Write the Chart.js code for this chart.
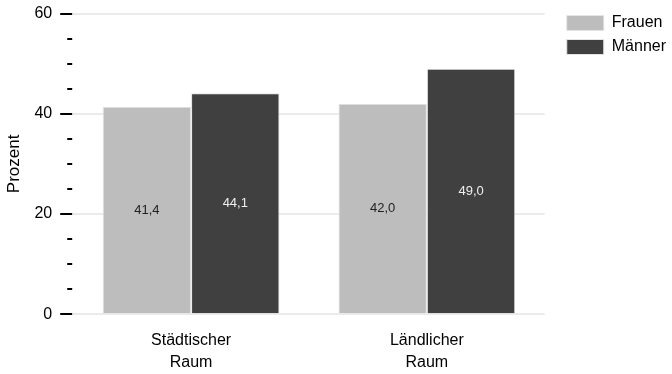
<!DOCTYPE html>
<html>
<head>
<meta charset="utf-8">
<script src="https://cdn.jsdelivr.net/npm/chart.js@4/dist/chart.umd.min.js"></script>
<style>
  html, body { margin: 0; padding: 0; background: #fff; }
  #wrap { width: 672px; height: 374px; }
</style>
</head>
<body>
<div id="wrap"><canvas id="chart"></canvas></div>
<script>
// Daten
const kategorien = [['Städtischer', 'Raum'], ['Ländlicher', 'Raum']];
const frauen = [41.4, 42.0];
const maenner = [44.1, 49.0];
const serienNamen = ['Frauen', 'Männer'];
const farben = ['#bdbdbd', '#404040'];
const labelFarben = ['#222222', '#eeeeee'];

const schrift = "'Liberation Sans', Arial, sans-serif";

// Striche an der y-Achse (lang bei 20er Schritten, kurz dazwischen)
const tickStriche = {
  id: 'tickStriche',
  afterDraw(chart) {
    const y = chart.scales.y;
    const ctx = chart.ctx;
    const rechts = chart.chartArea.left - 1;
    ctx.save();
    ctx.strokeStyle = '#000';
    ctx.lineWidth = 2;
    y.ticks.forEach(t => {
      const py = Math.round(y.getPixelForValue(t.value));
      const laenge = t.value % 20 === 0 ? 12 : 5;
      ctx.beginPath();
      ctx.moveTo(rechts - laenge, py);
      ctx.lineTo(rechts, py);
      ctx.stroke();
    });
    ctx.restore();
  }
};

// Werte mitten in die Balken schreiben
const balkenWerte = {
  id: 'balkenWerte',
  afterDatasetsDraw(chart) {
    const ctx = chart.ctx;
    ctx.save();
    ctx.font = '13px ' + schrift;
    ctx.textAlign = 'center';
    ctx.textBaseline = 'middle';
    chart.data.datasets.forEach((ds, i) => {
      const meta = chart.getDatasetMeta(i);
      ctx.fillStyle = labelFarben[i];
      meta.data.forEach((bar, j) => {
        const wert = ds.data[j].toFixed(1).replace('.', ',');
        ctx.fillText(wert, bar.x, (bar.y + bar.base) / 2);
      });
    });
    ctx.restore();
  }
};

// etwas Luft zwischen Diagramm und Legende
const legendenAbstand = {
  id: 'legendenAbstand',
  beforeInit(chart) {
    const leg = chart.legend;
    const fit = leg.fit;
    leg.fit = function () { fit.call(this); this.width += 14; };
  },
  afterLayout(chart) {
    chart.legend.left += 14;
  }
};

new Chart(document.getElementById('chart'), {
  type: 'bar',
  data: {
    labels: kategorien,
    datasets: [
      { label: serienNamen[0], data: frauen, backgroundColor: farben[0], borderColor: '#e4e4e4', borderWidth: 1 },
      { label: serienNamen[1], data: maenner, backgroundColor: farben[1], borderColor: '#e4e4e4', borderWidth: 1 }
    ]
  },
  options: {
    responsive: true,
    maintainAspectRatio: false,
    animation: false,
    layout: { padding: { top: 7, right: -4, bottom: 0, left: 0 } },
    datasets: { bar: { categoryPercentage: 0.75, barPercentage: 1.0 } },
    scales: {
      x: {
        grid: { display: false, drawTicks: true, tickLength: 15 },
        border: { display: false },
        ticks: { color: '#000', font: { family: schrift, size: 16, lineHeight: 1.4 }, padding: 0 }
      },
      y: {
        min: 0,
        max: 60,
        border: { display: false },
        grid: {
          drawTicks: true,
          tickLength: 17,
          tickColor: 'transparent',
          lineWidth: 2,
          color: c => (c.tick && c.tick.value % 20 === 0) ? '#ebebeb' : 'transparent'
        },
        ticks: {
          stepSize: 5,
          autoSkip: false,
          padding: 4,
          color: '#000',
          font: { family: schrift, size: 16 },
          callback: v => (v % 20 === 0 ? v : '')
        },
        title: {
          display: true,
          text: 'Prozent',
          color: '#000',
          font: { family: schrift, size: 17 },
          padding: { top: 4, bottom: 6 }
        }
      }
    },
    plugins: {
      legend: {
        position: 'right',
        align: 'start',
        labels: {
          boxWidth: 37,
          boxHeight: 15,
          padding: 8,
          color: '#000',
          font: { family: schrift, size: 16 }
        }
      },
      tooltip: { enabled: false }
    }
  },
  plugins: [tickStriche, balkenWerte, legendenAbstand]
});
</script>
</body>
</html>
